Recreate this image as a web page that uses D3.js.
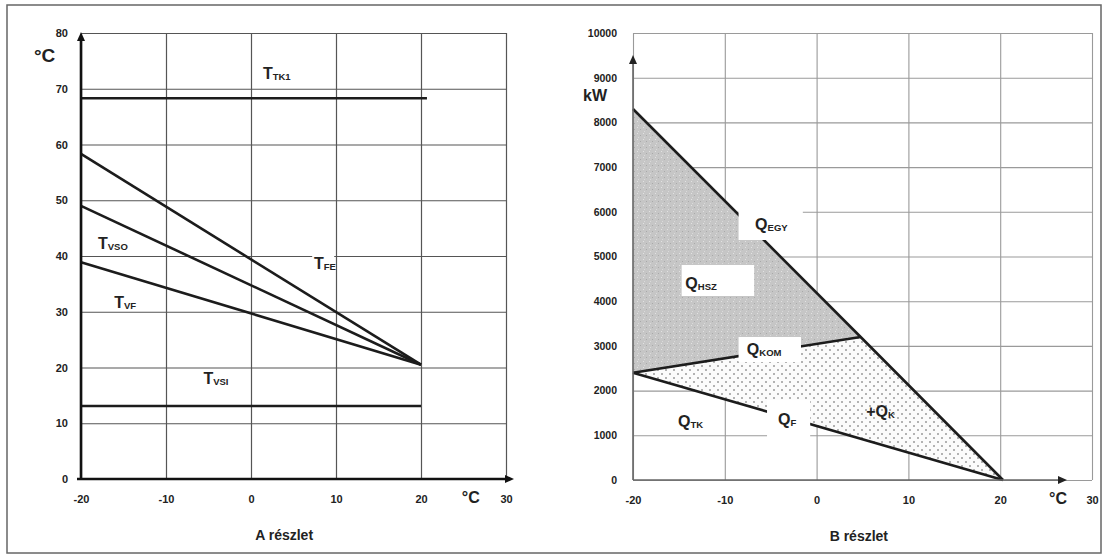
<!DOCTYPE html>
<html><head><meta charset="utf-8">
<script src="https://cdn.jsdelivr.net/npm/d3@7"></script>
<style>
html,body{margin:0;padding:0;background:#fff;}
svg text{font-family:"Liberation Sans",Arial,sans-serif;font-weight:bold;fill:#222;}
</style></head>
<body>
<svg id="c" width="1103" height="555"></svg>
<script>
// ---------- data: panel A (temperatures) ----------
const aXTicks = [-20, -10, 0, 10, 20, 30];
const aYTicks = [0, 10, 20, 30, 40, 50, 60, 70, 80];
const tNames  = ["TK1", "FE", "VSO", "VF", "VSI"];
const tX0     = [-20, -20, -20, -20, -20];
const tY0     = [68.3, 58.3, 49.0, 38.9, 13.1];
const tX1     = [20.7, 20, 20, 20, 20];
const tY1     = [68.3, 20.5, 20.5, 20.5, 13.1];
const tLabelX = [1.4, 7.4, -18.0, -16.1, -5.6];
const tLabelY = [71.7, 37.7, 41.3, 30.7, 17.0];

// ---------- data: panel B (heat loads) ----------
const bXTicks = [-20, -10, 0, 10, 20, 30];
const bYTicks = [0, 1000, 2000, 3000, 4000, 5000, 6000, 7000, 8000, 9000, 10000];
const qEgyX = [-20, 4.8, 20.3];
const qEgyY = [8300, 3200, 0];
const qKomX = [-20, 4.8];
const qKomY = [2400, 3200];
const qFX   = [-20, 20.3];
const qFY   = [2400, 0];
const qNames  = ["EGY", "HSZ", "KOM", "F", "K", "TK"];
const qPrefix = ["", "", "", "", "+", ""];
const qLabelX = [-6.7, -14.3, -7.6, -4.2, 5.4, -15.1];
const qLabelY = [5593, 4273, 2796, 1230, 1409, 1186];
// white boxes behind labels [x0,x1,y0,y1]
const qBoxX0 = [-8.5, -14.7, -8.5, -5.4];
const qBoxX1 = [-1.5, -6.8, -1.7, -0.7];
const qBoxY0 = [5369, 4116, 2640, 895];
const qBoxY1 = [6018, 4810, 3199, 1790];

const svg = d3.select("#c");
// outer frame
svg.append("rect").attr("x", 7).attr("y", 5).attr("width", 1094).attr("height", 548)
  .attr("fill", "none").attr("stroke", "#666").attr("stroke-width", 1.5);

const defs = svg.append("defs");
const pat = defs.append("pattern").attr("id", "dots").attr("patternUnits", "userSpaceOnUse")
  .attr("width", 8).attr("height", 8);
pat.append("rect").attr("width", 8).attr("height", 8).attr("fill", "#fbfbfb");
pat.append("circle").attr("cx", 2).attr("cy", 2).attr("r", 0.75).attr("fill", "#444");
pat.append("circle").attr("cx", 6).attr("cy", 6).attr("r", 0.75).attr("fill", "#444");
const gp = defs.append("pattern").attr("id", "speck").attr("patternUnits", "userSpaceOnUse")
  .attr("width", 6).attr("height", 6);
gp.append("rect").attr("width", 6).attr("height", 6).attr("fill", "#c6c6c6");
gp.append("rect").attr("x", 1).attr("y", 1).attr("width", 1).attr("height", 1).attr("fill", "#e2e2e2");
gp.append("rect").attr("x", 4).attr("y", 3).attr("width", 1).attr("height", 1).attr("fill", "#a9a9a9");
gp.append("rect").attr("x", 2).attr("y", 5).attr("width", 1).attr("height", 1).attr("fill", "#dadada");

function arrowUp(g, x, y, c) {
  g.append("path").attr("d", `M${x},${y} l-4,9 l8,0 z`).attr("fill", c);
}
function arrowRight(g, x, y, c) {
  g.append("path").attr("d", `M${x},${y} l-9,-4 l0,8 z`).attr("fill", c);
}
const fmt = d => d < 0 ? "-" + Math.abs(d) : String(d);

// ================= Panel A =================
{
  const x = d3.scaleLinear().domain([-20, 30]).range([81, 506]);
  const y = d3.scaleLinear().domain([0, 80]).range([479, 33]);
  const g = svg.append("g");
  g.append("g").attr("transform", `translate(${x(-20)},0)`)
    .call(d3.axisLeft(y).tickValues(aYTicks).tickSize(-(x(30) - x(-20))).tickFormat(""))
    .call(s => s.select(".domain").remove())
    .call(s => s.selectAll("line").attr("stroke", "#555").attr("stroke-width", 1.2));
  g.append("g").attr("transform", `translate(0,${y(0)})`)
    .call(d3.axisBottom(x).tickValues(aXTicks).tickSize(-(y(0) - y(80))).tickFormat(""))
    .call(s => s.select(".domain").remove())
    .call(s => s.selectAll("line").attr("stroke", "#555").attr("stroke-width", 1.2));
  g.append("g").attr("transform", `translate(${x(-20)},0)`)
    .call(d3.axisLeft(y).tickValues(aYTicks).tickSize(0).tickPadding(13).tickFormat(fmt))
    .call(s => s.select(".domain").remove())
    .call(s => s.selectAll("text").attr("font-size", 11).attr("font-family", "Liberation Sans").attr("font-weight", "bold").attr("fill", "#222"));
  g.append("g").attr("transform", `translate(0,${y(0)})`)
    .call(d3.axisBottom(x).tickValues(aXTicks).tickSize(0).tickPadding(16).tickFormat(fmt))
    .call(s => s.select(".domain").remove())
    .call(s => s.selectAll("text").attr("font-size", 11).attr("font-family", "Liberation Sans").attr("font-weight", "bold").attr("fill", "#222"));
  tNames.forEach((n, i) => {
    g.append("line").attr("x1", x(tX0[i])).attr("y1", y(tY0[i])).attr("x2", x(tX1[i])).attr("y2", y(tY1[i]))
      .attr("stroke", "#1c1c1c").attr("stroke-width", 2.6);
  });
  g.append("rect").attr("x", x(7.2)).attr("y", y(37.7) - 14).attr("width", 22).attr("height", 17).attr("fill", "#fff");
  tNames.forEach((n, i) => {
    const t = g.append("text").attr("x", x(tLabelX[i])).attr("y", y(tLabelY[i]));
    t.append("tspan").attr("font-size", 16).text("T");
    t.append("tspan").attr("font-size", 9.5).attr("dy", 1).text(n);
  });
  g.append("line").attr("x1", x(-20)).attr("y1", y(0)).attr("x2", x(-20)).attr("y2", y(80) + 6)
    .attr("stroke", "#111").attr("stroke-width", 2.6);
  arrowUp(g, x(-20), y(80) - 1, "#111");
  g.append("line").attr("x1", x(-20) - 4).attr("y1", y(0)).attr("x2", 507).attr("y2", y(0))
    .attr("stroke", "#111").attr("stroke-width", 2.6);
  arrowRight(g, 514, y(0), "#111");
  g.append("text").attr("x", 34).attr("y", 62).attr("font-size", 19).text("°C");
  g.append("text").attr("x", x(24.8)).attr("y", 503).attr("font-size", 16).text("°C");
  g.append("text").attr("x", x(3.9)).attr("y", 540).attr("text-anchor", "middle").attr("font-size", 14).text("A részlet");
}

// ================= Panel B =================
{
  const x = d3.scaleLinear().domain([-20, 30]).range([633, 1092]);
  const y = d3.scaleLinear().domain([0, 10000]).range([480, 33]);
  const g = svg.append("g");
  g.append("g").attr("transform", `translate(${x(-20)},0)`)
    .call(d3.axisLeft(y).tickValues(bYTicks).tickSize(-(x(30) - x(-20))).tickFormat(""))
    .call(s => s.select(".domain").remove())
    .call(s => s.selectAll("line").attr("stroke", "#9a9a9a").attr("stroke-width", 1.1));
  g.append("g").attr("transform", `translate(0,${y(0)})`)
    .call(d3.axisBottom(x).tickValues(bXTicks).tickSize(-(y(0) - y(10000))).tickFormat(""))
    .call(s => s.select(".domain").remove())
    .call(s => s.selectAll("line").attr("stroke", "#9a9a9a").attr("stroke-width", 1.1));
  g.append("g").attr("transform", `translate(${x(-20)},0)`)
    .call(d3.axisLeft(y).tickValues(bYTicks).tickSize(0).tickPadding(16).tickFormat(fmt))
    .call(s => s.select(".domain").remove())
    .call(s => s.selectAll("text").attr("font-size", 10.5).attr("font-family", "Liberation Sans").attr("font-weight", "bold").attr("fill", "#222"));
  g.append("g").attr("transform", `translate(0,${y(0)})`)
    .call(d3.axisBottom(x).tickValues(bXTicks).tickSize(0).tickPadding(16).tickFormat(fmt))
    .call(s => s.select(".domain").remove())
    .call(s => s.selectAll("text").attr("font-size", 11).attr("font-family", "Liberation Sans").attr("font-weight", "bold").attr("fill", "#222"));

  const line = d3.line().x(d => x(d[0])).y(d => y(d[1]));
  const egy = qEgyX.map((v, i) => [v, qEgyY[i]]);
  const kom = qKomX.map((v, i) => [v, qKomY[i]]);
  const qf = qFX.map((v, i) => [v, qFY[i]]);
  const hsz = [egy[0], egy[1], ...kom.slice().reverse()];
  g.append("path").attr("d", line(hsz) + "Z").attr("fill", "url(#speck)");
  const kArea = [kom[0], kom[1], egy[2]];
  g.append("path").attr("d", line(kArea) + "Z").attr("fill", "url(#dots)");
  [egy, kom, qf].forEach(p => g.append("path").attr("d", line(p)).attr("fill", "none")
    .attr("stroke", "#1c1c1c").attr("stroke-width", 2.6));
  qBoxX0.forEach((v, i) => g.append("rect").attr("x", x(v)).attr("y", y(qBoxY1[i]))
    .attr("width", x(qBoxX1[i]) - x(v)).attr("height", y(qBoxY0[i]) - y(qBoxY1[i])).attr("fill", "#fff"));
  qNames.forEach((n, i) => {
    const t = g.append("text").attr("x", x(qLabelX[i])).attr("y", y(qLabelY[i]));
    t.append("tspan").attr("font-size", 16).text(qPrefix[i] + "Q");
    t.append("tspan").attr("font-size", 9.5).attr("dy", 1).text(n);
  });
  g.append("line").attr("x1", x(-20)).attr("y1", y(0)).attr("x2", x(-20)).attr("y2", 60)
    .attr("stroke", "#666").attr("stroke-width", 1.6);
  arrowUp(g, x(-20), 55, "#222");
  g.append("line").attr("x1", x(-20)).attr("y1", y(0)).attr("x2", 1060).attr("y2", y(0))
    .attr("stroke", "#666").attr("stroke-width", 1.6);
  arrowRight(g, 1067, y(0), "#222");
  g.append("text").attr("x", 583).attr("y", 101).attr("font-size", 16).text("kW");
  g.append("text").attr("x", 1049).attr("y", 504).attr("font-size", 16).text("°C");
  g.append("text").attr("x", x(4.6)).attr("y", 541).attr("text-anchor", "middle").attr("font-size", 14).text("B részlet");
}
</script>
</body></html>
